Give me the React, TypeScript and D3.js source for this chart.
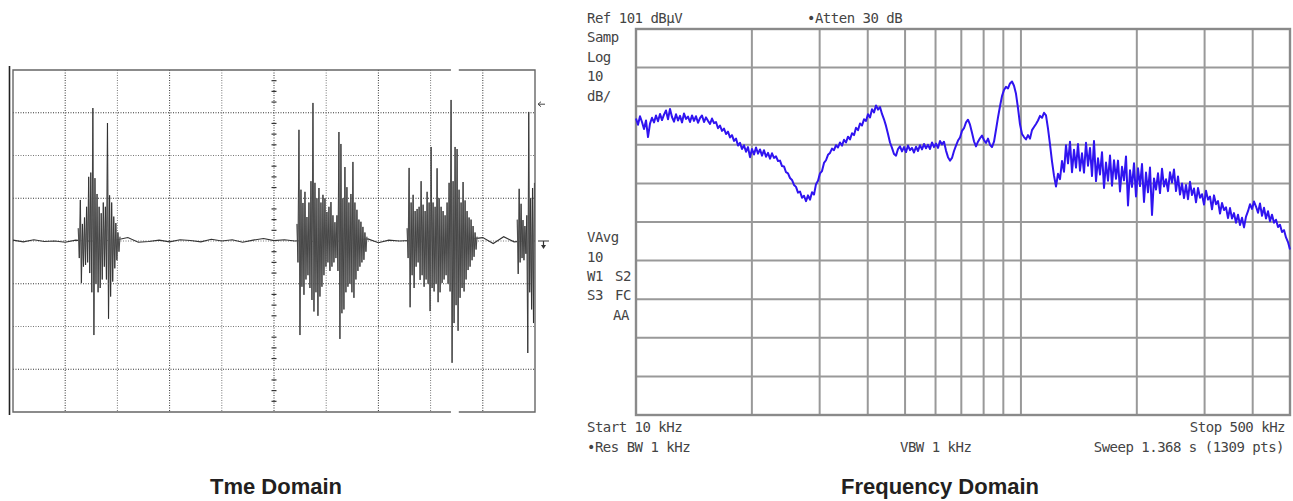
import React from 'react';
import * as d3 from 'd3';

const W = 1293;
const H = 501;

// ---- time domain (oscilloscope), units are screen divisions ----
const timeDivs = [0, 1, 2, 3, 4, 5, 6, 7, 8, 9, 10];
const ampDivs = [-4, -3, -2, -1, 0, 1, 2, 3, 4];
const baselineStep = 0.2;
const baselineWiggle = [
  0.02, -0.02, 0.03, -0.01, 0.0, -0.03, 0.02, 0.0, 0.0, 0.01,
  0.03, 0.08, -0.03, -0.01, 0.02, -0.02, 0.03, 0.01, -0.02, 0.04,
  0.0, 0.03, -0.03, 0.02, 0.06, 0.01, 0.03, 0.0, 0.02, -0.02,
  0.03, 0.0, -0.02, 0.03, 0.05, -0.04, 0.02, 0.0, 0.01, -0.02,
  0.02, 0.03, 0.0, 0.02, 0.05, 0.08, -0.06, 0.1, -0.02, 0.0, 0.0,
];
const burstStarts = [1.25, 5.44, 7.55, 9.66];
const burstEnds = [2.05, 6.78, 8.89, 9.99];
const burst1 = [
  0.3, -0.4, 0.96, -0.98, 0.4, -0.6, 0.55, -0.56, 0.8, -0.5, 1.5, -0.75, 1.6, -1.2,
  3.11, -2.2, 1.47, -1.0, 1.1, -1.2, 0.8, -1.1, 0.65, -0.9, 0.9, -0.6, 0.8, -0.9,
  2.76, -1.82, 1.07, -1.3, 0.9, -0.95, 0.57, -0.64, 0.42, -0.45, 0.2, -0.25, 0.1,
];
const burst2 = [
  0.4, -0.5, 2.6, -2.2, 1.2, -1.07, 0.89, -1.26, 1.15, -0.9, 0.56, -0.8, 0.9, -1.1,
  1.4, -1.38, 3.23, -1.65, 1.36, -1.2, 1.0, -1.75, 1.24, -1.3, 0.9, -1.07, 1.08, -0.8,
  1.0, -0.6, 0.68, -0.5, 0.8, -0.7, 0.91, -0.6, 0.6, -0.5, 0.44, -0.4, 0.6, -0.7,
  2.55, -2.29, 2.27, -1.69, 1.0, -1.6, 1.73, -1.2, 1.26, -1.07, 0.9, -1.0, 1.1, -1.2,
  1.85, -1.33, 0.9, -0.9, 0.73, -0.7, 0.5, -0.6, 0.45, -0.5, 0.33, -0.44, 0.2, -0.25, 0.1,
];
const burst3 = [
  0.3, -0.4, 1.71, -1.55, 0.9, -0.8, 1.08, -1.1, 0.7, -0.6, 0.75, -0.5, 0.8, -0.91,
  1.4, -0.8, 0.85, -1.07, 0.7, -0.9, 1.15, -1.0, 0.9, -1.64, 2.2, -1.1, 0.9, -1.18,
  0.8, -1.0, 1.7, -1.43, 1.0, -1.2, 0.8, -0.98, 0.7, -0.9, 0.6, -0.8, 0.9, -1.0,
  1.36, -1.18, 3.3, -2.85, 1.4, -1.92, 2.2, -1.5, 2.15, -2.1, 1.2, -1.33, 0.9, -1.1,
  1.38, -1.18, 0.95, -0.9, 0.7, -0.68, 0.55, -0.6, 0.5, -0.45, 0.35, -0.37, 0.2, -0.2, 0.1,
];
const burst4 = [
  0.5, -0.77, 1.22, -0.5, 0.87, -0.4, 0.49, -0.45, 0.35, -0.3, 0.6, -2.62, 3.02, -1.2,
  1.0, -1.6, 1.24, -1.92, 1.36,
];
const burstValues = [burst1, burst2, burst3, burst4];
const frameGap = [8.39, 8.54];
const refMarkerDiv = 3.2;

// ---- frequency domain (spectrum analyzer) ----
const startKHz = 10;
const stopKHz = 500;
const refDb = 101;
const dbPerDiv = 10;
const freqGridKHz = [20, 30, 40, 50, 60, 70, 80, 90, 100, 200, 300, 400];
// trace in dBuV, one value per sweep point (log-spaced from start to stop)
const spectrumDb = [
  77.8, 76.2, 78.4, 76.9, 75.1, 77.3, 73.0, 76.5, 78.0, 76.8,
  78.6, 77.1, 79.0, 77.4, 78.8, 79.9, 77.6, 80.3, 78.2, 77.0,
  78.9, 77.3, 78.5, 76.8, 79.1, 77.7, 78.3, 76.9, 78.6, 77.2,
  78.4, 76.7, 77.9, 78.6, 76.9, 78.1, 77.2, 76.4, 77.8, 76.6,
  76.9, 75.3, 76.0, 74.6, 75.2, 73.8, 74.4, 72.9, 73.5, 72.0,
  72.6, 70.8, 71.5, 69.9, 70.9, 69.2, 70.4, 67.8, 69.9, 68.5,
  70.3, 68.7, 69.8, 68.2, 69.6, 67.9, 68.9, 67.4, 68.8, 67.6,
  68.0, 66.8, 66.9, 65.5, 65.4, 63.9, 63.6, 62.4, 61.9, 60.6,
  60.1, 58.6, 58.9, 57.3, 57.8, 56.4, 57.9, 56.8, 58.7, 58.1,
  60.8, 61.7, 63.6, 64.2, 66.3, 67.0, 68.4, 68.9, 70.0, 69.6,
  70.9, 70.3, 71.6, 70.8, 72.3, 71.6, 73.1, 72.4, 74.0, 73.5,
  75.4, 74.8, 76.5, 76.0, 77.6, 77.2, 78.9, 78.1, 80.2, 79.4,
  81.2, 80.1, 80.8, 79.0, 77.6, 75.9, 73.8, 71.6, 70.2, 68.6,
  68.2, 69.9, 70.6, 69.3, 70.4, 69.1, 70.8, 69.6, 70.2, 69.0,
  70.5, 69.4, 70.9, 69.8, 71.2, 70.1, 71.0, 69.9, 71.6, 70.4,
  71.3, 70.2, 72.0, 71.1, 71.8, 69.5, 67.8, 66.9, 67.6, 69.4,
  70.8, 72.1, 72.9, 74.6, 75.3, 76.8, 77.5, 76.2, 74.1, 71.9,
  70.6, 71.8, 72.7, 73.4, 72.2, 71.5, 72.6, 71.0, 70.4, 71.8,
  74.9, 78.1, 81.0, 83.6, 85.2, 86.0, 85.6, 86.9, 87.4, 86.3,
  84.2, 80.5, 76.3, 73.8, 73.0, 72.4, 73.5, 72.6, 74.8, 75.6,
  76.4, 77.3, 78.5, 78.0, 79.3, 78.6, 75.2, 71.1, 66.7, 63.0,
  60.2, 63.5, 62.1, 66.8, 64.0, 70.9, 66.2, 71.8, 63.9, 69.7,
  65.1, 71.2, 64.3, 68.8, 63.8, 71.5, 65.6, 70.2, 62.9, 72.0,
  61.6, 67.5, 63.3, 69.1, 59.8, 66.4, 61.7, 68.2, 60.4, 67.0,
  62.2, 66.9, 58.9, 65.3, 61.8, 68.0, 55.3, 64.4, 60.1, 66.2,
  57.6, 64.9, 60.3, 66.0, 56.2, 63.8, 58.7, 65.1, 52.8, 62.3,
  59.4, 63.6, 58.5, 64.8, 60.2, 62.1, 59.0, 63.9, 61.2, 64.6,
  59.0, 62.8, 58.1, 61.0, 57.2, 60.6, 56.9, 61.4, 58.0, 59.7,
  56.1, 59.8, 57.3, 58.2, 55.5, 59.1, 56.8, 57.6, 54.3, 57.9,
  55.6, 56.4, 53.2, 55.9, 54.1, 54.8, 52.0, 54.6, 51.9, 53.3,
  50.8, 52.9, 50.2, 52.1, 49.6, 52.4, 53.8, 55.6, 54.4, 56.3,
  55.0, 53.4, 55.8, 52.6, 54.7, 51.9, 53.8, 51.2, 52.9, 50.8,
  51.6, 49.7, 50.3, 48.4, 48.9, 47.0, 45.8, 43.9,
];
const topLeftLabels = ['Samp', 'Log', '10', 'dB/'];
const midLeftLabels = ['VAvg', '10'];

const titles = ['Tme Domain', 'Frequency Domain'];

export default function App() {
  // time domain scales
  const xT = d3.scaleLinear().domain([0, 10]).range([13, 535]);
  const yT = d3.scaleLinear().domain([-4, 4]).range([412, 70]);

  // frequency domain scales
  const xF = d3.scaleLog().domain([startKHz, stopKHz]).range([636, 1290]);
  const yF = d3
    .scaleLinear()
    .domain([refDb - 10 * dbPerDiv, refDb])
    .range([415, 29]);
  const dbGrid = d3.range(1, 10).map((k) => refDb - k * dbPerDiv);

  const baseLine = d3
    .line<number>()
    .x((_, i) => xT(i * baselineStep))
    .y((d) => yT(d))(baselineWiggle);

  const burstPaths = burstValues.map((vals, b) =>
    d3
      .line<number>()
      .x((_, i) => xT(burstStarts[b] + ((burstEnds[b] - burstStarts[b]) * i) / (vals.length - 1)))
      .y((d) => yT(d))(vals)
  );

  const n = spectrumDb.length;
  const sweepFreq = (i: number) => startKHz * Math.pow(stopKHz / startKHz, i / (n - 1));
  const spectrumPath = d3
    .line<number>()
    .x((_, i) => xF(sweepFreq(i)))
    .y((d) => yF(d))(spectrumDb);

  const minorTicks = d3.range(-4, 4.001, 0.25).filter((v) => Math.abs(v % 1) > 0.01);

  const mono = {
    fontFamily: '"DejaVu Sans Mono", monospace',
    fontSize: 14,
    letterSpacing: -0.5,
    fill: '#444',
  } as const;

  const title = {
    textAnchor: 'middle',
    fontFamily: '"Liberation Sans", Arial, sans-serif',
    fontWeight: 'bold',
    fontSize: 22,
    fill: '#231f20',
  } as const;

  const gapL = xT(frameGap[0]);
  const gapR = xT(frameGap[1]);
  const refY = yT(refMarkerDiv);
  const gndY = yT(0);
  const rx = xT(10);

  return (
    <svg
      width={W}
      height={H}
      viewBox={`0 0 ${W} ${H}`}
      style={{ position: 'absolute', left: 0, top: 0, background: '#fff' }}
    >
      {/* ---------------- Time domain ---------------- */}
      <g>
        {timeDivs.slice(1, -1).map((t) => (
          <line
            key={'vt' + t}
            x1={xT(t)}
            x2={xT(t)}
            y1={yT(4)}
            y2={yT(-4)}
            stroke={t % 2 ? '#333' : '#777'}
            strokeWidth={1}
            strokeDasharray="1,1.5"
          />
        ))}
        {ampDivs.slice(1, -1).map((a) => (
          <line
            key={'ht' + a}
            x1={xT(0)}
            x2={xT(10)}
            y1={yT(a)}
            y2={yT(a)}
            stroke={a % 2 ? '#333' : '#777'}
            strokeWidth={1}
            strokeDasharray="1,1.5"
          />
        ))}
        {minorTicks.map((v) => (
          <line
            key={'mt' + v}
            x1={xT(5) - 2.5}
            x2={xT(5) + 2.5}
            y1={yT(v)}
            y2={yT(v)}
            stroke="#333"
            strokeWidth={1.2}
          />
        ))}
        {/* frame */}
        <path
          d={`M${gapL},${yT(4)} H${xT(0)} V${yT(-4)} H${gapL} M${gapR},${yT(4)} H${rx} V${yT(-4)} H${gapR}`}
          fill="none"
          stroke="#666"
          strokeWidth={1.4}
        />
        <line x1={9.5} x2={9.5} y1={yT(4) - 4} y2={yT(-4) + 3} stroke="#222" strokeWidth={1.6} />
        {/* trace */}
        <path d={baseLine ?? ''} fill="none" stroke="#333" strokeWidth={1.1} />
        {burstPaths.map((d, i) => (
          <g key={'b' + i}>
            <path d={d ?? ''} fill="none" stroke="#999" strokeWidth={1.2} />
            <path d={d ?? ''} fill="none" stroke="#1a1a1a" strokeWidth={0.6} />
          </g>
        ))}
        {/* reference and ground markers */}
        <path
          d={`M${rx + 10},${refY} H${rx + 3} M${rx + 6},${refY - 2.5} L${rx + 3},${refY} L${rx + 6},${refY + 2.5}`}
          fill="none"
          stroke="#444"
          strokeWidth={1}
        />
        <path
          d={`M${rx + 3},${gndY} H${rx + 14} M${rx + 8.5},${gndY} V${gndY + 5}`}
          fill="none"
          stroke="#333"
          strokeWidth={1.2}
        />
        <path d={`M${rx + 6},${gndY + 4} L${rx + 11},${gndY + 4} L${rx + 8.5},${gndY + 8} Z`} fill="#333" />
      </g>

      {/* ---------------- Frequency domain ---------------- */}
      <g>
        {freqGridKHz.map((f) => (
          <line
            key={'vf' + f}
            x1={xF(f)}
            x2={xF(f)}
            y1={yF(refDb)}
            y2={yF(refDb - 10 * dbPerDiv)}
            stroke="#999"
            strokeWidth={2}
          />
        ))}
        {dbGrid.map((v) => (
          <line
            key={'hf' + v}
            x1={xF(startKHz)}
            x2={xF(stopKHz)}
            y1={yF(v)}
            y2={yF(v)}
            stroke="#999"
            strokeWidth={2}
          />
        ))}
        <rect
          x={xF(startKHz)}
          y={yF(refDb)}
          width={xF(stopKHz) - xF(startKHz)}
          height={yF(refDb - 10 * dbPerDiv) - yF(refDb)}
          fill="none"
          stroke="#8a8a8a"
          strokeWidth={2.4}
        />
        <path
          d={spectrumPath ?? ''}
          fill="none"
          stroke="#3014f0"
          strokeWidth={2}
          strokeLinejoin="round"
        />

        <text x={587} y={23} {...mono}>Ref 101 dBµV</text>
        <text x={807} y={23} {...mono}>•Atten 30 dB</text>
        {topLeftLabels.map((s, i) => (
          <text key={s + i} x={587} y={42 + i * 19.7} {...mono}>{s}</text>
        ))}
        {midLeftLabels.map((s, i) => (
          <text key={s + i} x={587} y={242 + i * 19.7} {...mono}>{s}</text>
        ))}
        <text x={587} y={281} {...mono}>W1</text>
        <text x={615} y={281} {...mono}>S2</text>
        <text x={587} y={300} {...mono}>S3</text>
        <text x={615} y={300} {...mono}>FC</text>
        <text x={613} y={320} {...mono}>AA</text>
        <text x={587} y={432} {...mono}>Start 10 kHz</text>
        <text x={587} y={452} {...mono}>•Res BW 1 kHz</text>
        <text x={900} y={452} {...mono}>VBW 1 kHz</text>
        <text x={1285} y={432} textAnchor="end" {...mono}>Stop 500 kHz</text>
        <text x={1284} y={452} textAnchor="end" {...mono}>Sweep 1.368 s (1309 pts)</text>
      </g>

      {/* titles */}
      <text x={276} y={494} {...title}>{titles[0]}</text>
      <text x={940} y={494} {...title}>{titles[1]}</text>
    </svg>
  );
}
